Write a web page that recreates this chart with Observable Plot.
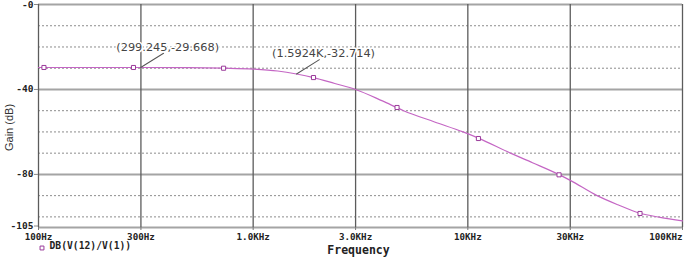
<!DOCTYPE html>
<html><head><meta charset="utf-8">
<script src="https://cdn.jsdelivr.net/npm/d3@7"></script>
<script src="https://cdn.jsdelivr.net/npm/@observablehq/plot@0.6"></script>
<style>body{margin:0;background:#fff}</style>
</head><body><div id="chart"></div>
<script>
// Curve readings: frequency (Hz) and gain (dB)
const freq = [100, 200, 299.245, 500, 728, 1000, 1300, 1592.4, 1910, 2400, 3000, 4000, 5020, 7000, 9500, 11200, 15800, 20000, 26600, 30000, 40000, 50000, 63400, 78600, 100000];
const gain = [-29.66, -29.66, -29.668, -29.75, -30.0, -30.4, -31.3, -32.714, -34.4, -37.2, -40.0, -45.4, -50.0, -55.3, -60.0, -62.9, -70.0, -74.5, -80.1, -82.8, -90.0, -94.3, -98.3, -100.2, -101.9];
// Plot-point markers on the trace
const markerFreq = [106, 277, 728, 1910, 4680, 11200, 26600, 63400];
const markerGain = [-29.66, -29.66, -30.0, -34.4, -48.5, -63.1, -80.2, -98.4];
// Cursor annotations
const annotFreq = [299.245, 1592.4];
const annotGain = [-29.668, -32.714];
const annotText = ["(299.245,-29.668)", "(1.5924K,-32.714)"];
// Axis ticks
const xTicks = [100, 300, 1000, 3000, 10000, 30000, 100000];
const xTickLabels = ["100Hz", "300Hz", "1.0KHz", "3.0KHz", "10KHz", "30KHz", "100KHz"];
const yTicks = [0, -40, -80, -105];
const yTickLabels = ["-0", "-40", "-80", "-105"];
const solidDb = [0, -40, -80];
const dottedDb = [-10, -20, -30, -50, -60, -70, -90, -100];
const traceName = "DB(V(12)/V(1))";

const curve = freq.map((f, i) => ({f, g: gain[i]}));
const markers = markerFreq.map((f, i) => ({f, g: markerGain[i]}));
const annots = annotFreq.map((f, i) => ({f, g: annotGain[i], t: annotText[i]}));
const xLab = xTicks.map((f, i) => ({f, t: xTickLabels[i]}));

const mono = "DejaVu Sans Mono";
const purple = "#c466c4";
const line = {draw(ctx, l) { ctx.moveTo(0, 0); ctx.lineTo(0, -l); }};
const yAxisStyle = {
  tickFormat: d => yTickLabels[yTicks.indexOf(d)], tickSize: 4, tickPadding: 1,
  stroke: "#888", fill: "#222", fontFamily: mono, fontWeight: "bold", fontSize: 9.5, label: null
};

const plot = Plot.plot({
  width: 685, height: 260,
  marginLeft: 38, marginRight: 3, marginTop: 4, marginBottom: 33,
  style: {background: "#fff", overflow: "visible"},
  x: {type: "log", domain: [100, 100000]},
  y: {domain: [-105, 0]},
  marks: [
    Plot.ruleY(dottedDb, {stroke: "#8c8c8c", strokeWidth: 1, strokeDasharray: "2,2"}),
    Plot.ruleY(solidDb, {stroke: "#a4a4a4", strokeWidth: 2}),
    Plot.ruleY([-105], {stroke: "#a4a4a4", strokeWidth: 2}),
    Plot.ruleX(xTicks, {stroke: "#5c5c5c", strokeWidth: 1.3}),
    Plot.axisX(xTicks, {tickFormat: () => "", tickSize: 3, stroke: "#777", label: null}),
    Plot.text(xLab.slice(0, -1), {x: "f", text: "t", frameAnchor: "bottom", dy: 12,
      fontFamily: mono, fontWeight: "bold", fontSize: 9.2, fill: "#222"}),
    Plot.text(xLab.slice(-1), {x: "f", text: "t", frameAnchor: "bottom", dy: 12, textAnchor: "end",
      fontFamily: mono, fontWeight: "bold", fontSize: 9.2, fill: "#222"}),
    Plot.axisY(yTicks.slice(0, -1), yAxisStyle),
    Plot.axisY(yTicks.slice(-1), {...yAxisStyle, dy: -1.5}),
    Plot.line(curve, {x: "f", y: "g", stroke: purple, strokeWidth: 1.2, curve: "monotone-x"}),
    Plot.dot(markers, {x: "f", y: "g", symbol: "square", r: 2.3, stroke: "#9a3a9a", fill: "white", strokeWidth: 1}),
    Plot.vector(annots, {x: "f", y: "g", length: 27, rotate: 58, anchor: "start", shape: line, stroke: "#555", strokeWidth: 1}),
    Plot.text(annots, {x: "f", y: "g", text: "t", dx: 27, dy: -20.5, textAnchor: "middle",
      fontFamily: "DejaVu Sans", fontSize: 11.3, fill: "#444", stroke: "white", strokeWidth: 3}),
    Plot.text(["Frequency"], {frameAnchor: "bottom", dx: -2, dy: 26, fontFamily: mono, fontWeight: "bold", fontSize: 11.5, fill: "#222"}),
    Plot.text(["Gain (dB)"], {frameAnchor: "left", dx: -29, dy: 11.5, rotate: -90, textAnchor: "middle",
      fontFamily: "Liberation Sans", fontSize: 11, fill: "#333"}),
    Plot.dot([traceName], {frameAnchor: "bottom-left", dx: 3.5, dy: 20.5, symbol: "square", r: 2.2, stroke: "#9a3a9a", fill: "white", strokeWidth: 1}),
    Plot.text([traceName], {frameAnchor: "bottom-left", dx: 11, dy: 21, textAnchor: "start", fontFamily: mono, fontWeight: "bold", fontSize: 9.7, fill: "#222"})
  ]
});
document.getElementById("chart").append(plot);
</script>
</body></html>
